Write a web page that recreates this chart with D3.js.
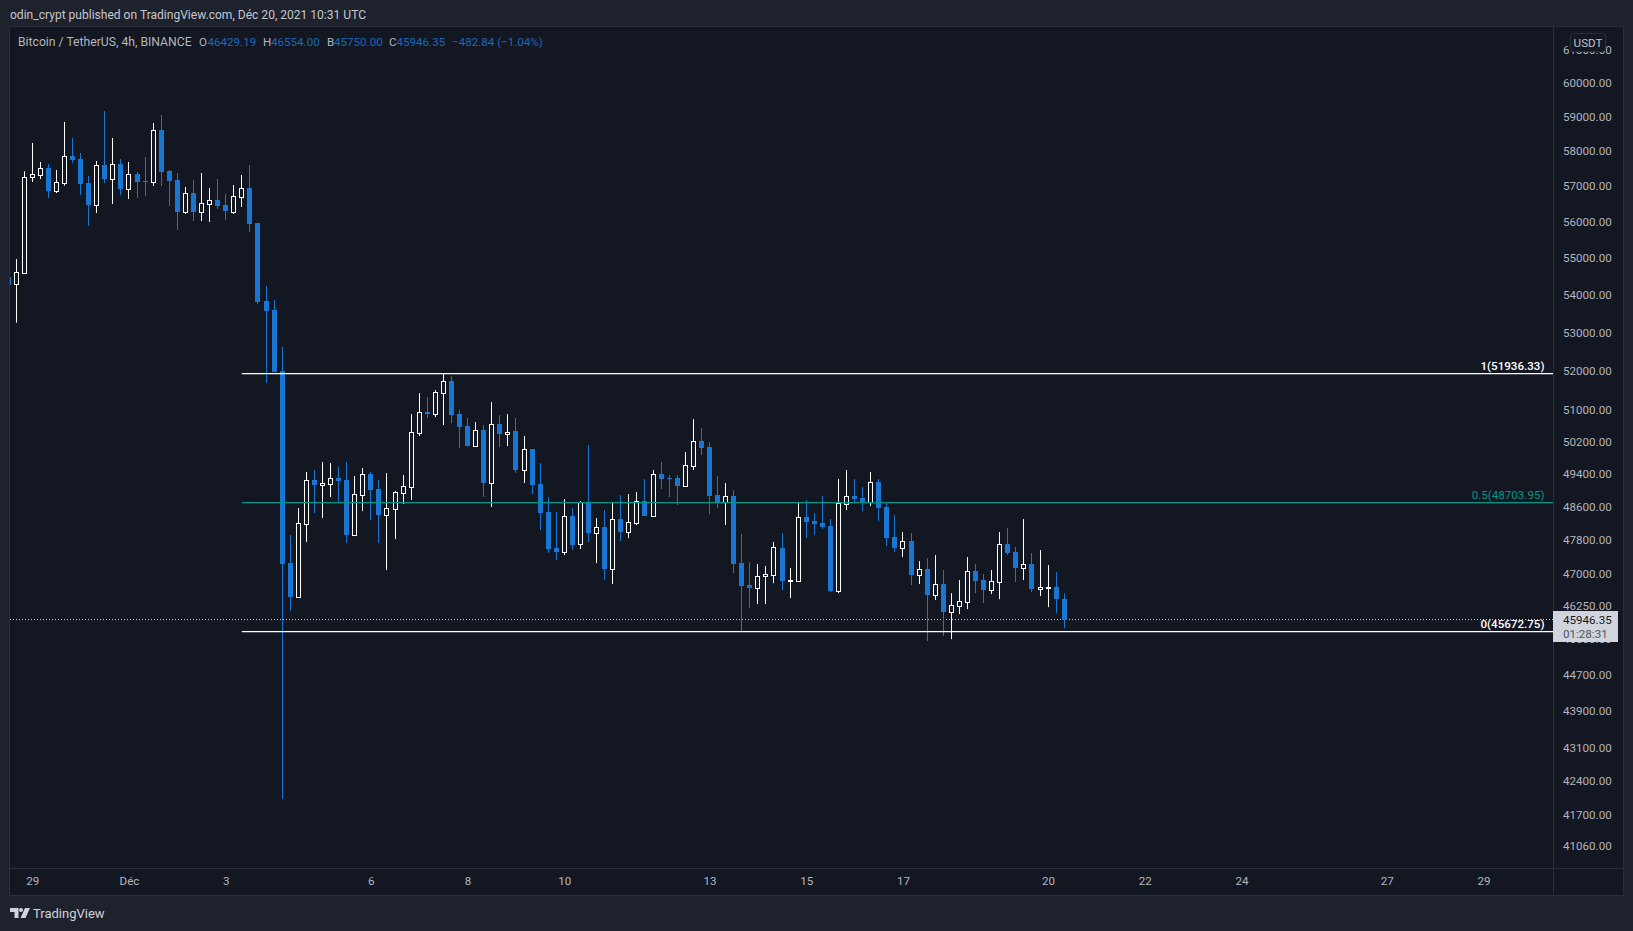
<!DOCTYPE html>
<html>
<head>
<meta charset="utf-8">
<title>BTCUSDT 4h</title>
<script src="https://cdn.jsdelivr.net/npm/d3@7"></script>
<style>
  html, body { margin: 0; padding: 0; background: #1e222d; overflow: hidden; }
  text { font-family: Roboto, "Noto Sans", sans-serif; }
</style>
</head>
<body>
<svg id="chart" width="1633" height="931"></svg>
<script>
// 4h candles. first bar is 28 Nov 12:00 UTC
var opens = [54495,54289,54603,57258,57333,57524,56879,57104,57869,57782,57096,56483,57610,57218,57638,56935,57353,57153,57133,58623,57438,57181,56279,56813,56279,56512,56615,56475,56279,56711,56955,55971,53840,53600,51997,47259,46473,48192,49252,49130,49162,49301,49252,47923,48893,49400,49032,48409,48554,48942,49089,50425,50947,50904,51439,51738,50896,50593,50100,50493,49186,50644,50401,50468,49505,50018,49154,48474,47613,47526,48378,47701,48716,47977,48114,47125,48305,48002,48217,48740,48385,49400,49301,49301,49113,49603,50217,50068,48886,48723,48862,47259,46744,46681,46947,46984,47613,46837,46844,48353,48257,48209,48138,46612,48675,48862,48813,48709,49203,48595,47875,47621,47779,46984,47118,46519,46767,46128,46265,46357,47071,46860,46635,46821,47708,47519,47149,47235,46651,46674,46698,46429.19];
var highs = [54520,54976,57430,58244,57696,57638,57467,58856,58389,57956,57296,57724,59178,58389,57782,57696,57410,57839,58826,59061,57467,57381,56983,57181,57381,56955,57210,56785,57040,57323,57610,55971,54244,53867,52622,47923,48571,49449,49498,49695,49670,49572,49695,49350,49547,49449,49252,49424,48984,49375,50896,51431,51329,51508,51936,51866,50998,50795,50694,50618,51201,50871,50896,50795,50342,50018,49670,48837,48474,48788,48571,48740,50118,48329,48522,48692,48886,48911,48959,49277,49498,49695,49375,49375,49943,50769,50543,50192,49350,49179,49008,47946,47282,47235,47189,47756,47970,47141,48692,48764,48450,48862,48305,49277,49498,49277,49081,49449,49277,48716,48402,47994,47970,47306,47376,47447,47095,46558,46860,47400,47235,47001,47095,47994,48090,47637,48305,47495,47566,47212,47048,46554];
var lows = [54250,53262,54590,57124,57210,56672,56813,57020,57676,56756,55888,56250,57096,56503,56756,56643,56672,56728,57011,57011,56447,55777,56223,56026,56026,55998,56363,56054,56223,56419,55721,53760,51687,51971,42021,46144,46460,47756,48450,48329,48837,48716,47732,47899,48498,48281,47732,47095,47827,48667,48764,50342,50795,50820,50618,50669,50043,50093,50100,48837,48595,50068,50093,49424,49179,48911,48042,47495,47329,47447,47566,47590,47756,47259,46860,46767,47779,47851,48162,48378,48385,49032,48837,48643,49113,49498,49868,48426,48571,48162,47024,45687,46212,46304,46304,46790,46628,46442,46844,47851,47923,48066,46582,46558,48522,48716,48498,48619,48257,47661,47519,47400,46744,46767,45460,46396,45573,45505,46075,46189,46558,46327,46535,46419,47447,46814,46860,46582,46489,46235,46098,45750];
var closes = [54270,54614,57258,57344,57516,56870,57116,57860,57753,57068,56475,57601,57210,57630,56926,57344,57124,57124,58614,57410,57153,56279,56804,56279,56522,56607,56447,56307,56720,56946,55943,53814,53573,51971,47235,46466,48202,49245,49130,49179,49294,49228,47923,48903,49392,49008,48402,48564,48952,49098,50435,50940,50896,51449,51731,50871,50568,50093,50485,49179,50636,50393,50451,49498,50010,49130,48450,47590,47519,48370,47685,48716,47970,48106,47118,48298,47994,48226,48733,48378,49392,49277,49277,49105,49613,50210,50043,48862,48716,48854,47235,46721,46674,46947,46994,47630,46837,46860,48346,48233,48185,48114,46605,48684,48854,48788,48716,49196,48571,47851,47613,47772,46977,47111,46512,46760,46121,46274,46366,47064,46837,46628,46830,47701,47495,47141,47228,46651,46698,46698,46419,45946.35];

var priceTicks = [61000,60000,59000,58000,57000,56000,55000,54000,53000,52000,51000,50200,49400,48600,47800,47000,46250,45500,44700,43900,43100,42400,41700,41060];
var dayTicks = ["2021-11-29","2021-12-01","2021-12-03","2021-12-06","2021-12-08","2021-12-10","2021-12-13","2021-12-15","2021-12-17","2021-12-20","2021-12-22","2021-12-24","2021-12-27","2021-12-29"];
var dayLabels = ["29","Déc","3","6","8","10","13","15","17","20","22","24","27","29"];

var fibLevels = [1, 0.5, 0];
var fibPrices = [51936.33, 48703.95, 45672.75];
var fibColors = ["#ffffff", "#009688", "#ffffff"];

var lastPrice = 45946.35;

var bg = "#1e222d", pane = "#131722", border = "#2a2e39", up = "#ffffff", down = "#1976d2", label = "#b2b5be";

var parseDay = d3.utcParse("%Y-%m-%d");
var firstBar = Date.UTC(2021, 10, 28, 12);
var barTime = function (i) { return new Date(firstBar + i * 4 * 3600 * 1000); };

var left = 10, right = 1553, top_ = 27, bottom = 868, axisBottom = 895, outerRight = 1623;

var xScale = d3.scaleUtc()
    .domain([parseDay("2021-11-29"), parseDay("2021-12-29")])
    .range([32.2, 1483.45]);

var yScale = d3.scaleLog()
    .domain([60000, 41060])
    .range([83.3, 845.7]);

var svg = d3.select("#chart");

svg.append("rect").attr("width", 1633).attr("height", 931).attr("fill", bg);
svg.append("rect")
    .attr("x", left - 0.5).attr("y", top_ - 0.5)
    .attr("width", outerRight - left + 1).attr("height", axisBottom - top_ + 1)
    .attr("fill", pane).attr("stroke", border);

svg.append("defs").append("clipPath").attr("id", "pane")
    .append("rect").attr("x", left).attr("y", top_).attr("width", right - left).attr("height", bottom - top_);

var plot = svg.append("g").attr("clip-path", "url(#pane)");

// current price, under the candles
plot.append("line")
    .attr("x1", left).attr("x2", right)
    .attr("y1", Math.floor(yScale(lastPrice)) + 0.5).attr("y2", Math.floor(yScale(lastPrice)) + 0.5)
    .attr("stroke", "#c8cad0").attr("stroke-dasharray", "1 2");

var candles = plot.selectAll(".candle")
    .data(opens.map(function (d, i) { return i; }))
    .enter().append("g").attr("class", "candle");

function isDown(i) { return closes[i] < opens[i]; }
function px(i) { return Math.floor(xScale(barTime(i))); }

candles.append("line")
    .attr("x1", function (i) { return px(i) + 0.5; })
    .attr("x2", function (i) { return px(i) + 0.5; })
    .attr("y1", function (i) { return yScale(highs[i]); })
    .attr("y2", function (i) { return yScale(lows[i]); })
    .attr("stroke", function (i) { return isDown(i) ? down : up; });

candles.append("rect")
    .attr("x", function (i) { return isDown(i) ? px(i) - 2 : px(i) - 1.5; })
    .attr("width", function (i) { return isDown(i) ? 5 : 4; })
    .attr("y", function (i) {
        var y = Math.round(yScale(Math.max(opens[i], closes[i])));
        return isDown(i) ? y : y + 0.5;
    })
    .attr("height", function (i) {
        var h = Math.max(1, Math.round(yScale(Math.min(opens[i], closes[i]))) - Math.round(yScale(Math.max(opens[i], closes[i]))));
        return h;
    })
    .attr("fill", function (i) { return isDown(i) ? down : pane; })
    .attr("stroke", function (i) { return isDown(i) ? "none" : up; });

// fib levels, on top of the candles
var fibStart = barTime(29);
fibPrices.forEach(function (p, i) {
    var y = Math.floor(yScale(p)) + 0.5;
    plot.append("line")
        .attr("x1", xScale(fibStart)).attr("x2", right)
        .attr("y1", y).attr("y2", y)
        .attr("stroke-width", 1.25)
        .attr("stroke", fibColors[i]);
    plot.append("text")
        .attr("x", 1544.5).attr("y", y - 4)
        .attr("text-anchor", "end")
        .attr("font-size", 11.6)
        .attr("font-weight", i == 1 ? 400 : 500)
        .attr("fill", fibColors[i])
        .text(fibLevels[i] + "(" + p.toFixed(2) + ")");
});

// separators
svg.append("line").attr("x1", right + 0.5).attr("x2", right + 0.5).attr("y1", top_).attr("y2", axisBottom).attr("stroke", border);
svg.append("line").attr("x1", left).attr("x2", outerRight).attr("y1", bottom + 0.5).attr("y2", bottom + 0.5).attr("stroke", border);

var yAxis = svg.append("g")
    .attr("transform", "translate(" + right + ",-0.3)")
    .call(d3.axisRight(yScale).tickValues(priceTicks).tickSize(0).tickPadding(10).tickFormat(function (d) { return d.toFixed(2); }));
yAxis.select(".domain").remove();
yAxis.selectAll("text").attr("font-size", 11.6).attr("font-family", "Roboto").attr("fill", label);

var xAxis = svg.append("g")
    .attr("transform", "translate(0," + bottom + ")")
    .call(d3.axisBottom(xScale).tickValues(dayTicks.map(parseDay)).tickSize(0).tickPadding(9)
        .tickFormat(function (d, i) { return dayLabels[i]; }));
xAxis.select(".domain").remove();
xAxis.selectAll("text").attr("font-size", 11.6).attr("font-family", "Roboto").attr("fill", label);

// USDT badge
svg.append("rect").attr("x", 1570.5).attr("y", 33.5).attr("width", 35).attr("height", 18).attr("rx", 3)
    .attr("fill", pane).attr("stroke", border);
svg.append("text").attr("x", 1588).attr("y", 47).attr("text-anchor", "middle").attr("font-size", 11.6).attr("fill", "#c0c3cb").text("USDT");

// price box
svg.append("rect").attr("x", right).attr("y", 611).attr("width", 65).attr("height", 31).attr("fill", "#d1d4dc");
svg.append("text").attr("x", 1563).attr("y", 624).attr("font-size", 11.6).attr("fill", "#131722").text(lastPrice.toFixed(2));
svg.append("text").attr("x", 1563).attr("y", 638).attr("font-size", 11.6).attr("fill", "#50535e").text("01:28:31");

// header and legend
svg.append("text").attr("x", 10).attr("y", 19).attr("font-size", 12.05).attr("fill", "#c4c7cf")
    .text("odin_crypt published on TradingView.com, Déc 20, 2021 10:31 UTC");

var legendText = [
    [18, "Bitcoin / TetherUS, 4h, BINANCE", label, 12.2],
    [199, "O", label, 11.6], [207.5, "46429.19", "#1a68bd", 11.6],
    [263, "H", label, 11.6], [271, "46554.00", "#1a68bd", 11.6],
    [327, "B", label, 11.6], [334, "45750.00", "#1a68bd", 11.6],
    [389, "C", label, 11.6], [396.5, "45946.35", "#1a68bd", 11.6],
    [452, "−482.84 (−1.04%)", "#1a68bd", 11.6]
];
svg.selectAll(".legend").data(legendText).enter().append("text")
    .attr("class", "legend")
    .attr("x", function (d) { return d[0]; })
    .attr("y", 46)
    .attr("font-size", function (d) { return d[3]; })
    .attr("fill", function (d) { return d[2]; })
    .text(function (d) { return d[1]; });

// logo
svg.append("path")
    .attr("fill", "#d1d4dc")
    .attr("d", "M10 908h8.5v10h-4v-6h-4.5zM25 908h5l-4.5 10h-5z");
svg.append("circle").attr("cx", 21).attr("cy", 910).attr("r", 2).attr("fill", "#d1d4dc");
svg.append("text").attr("x", 33).attr("y", 918).attr("font-size", 13).attr("fill", "#d1d4dc").text("TradingView");
</script>
</body>
</html>
